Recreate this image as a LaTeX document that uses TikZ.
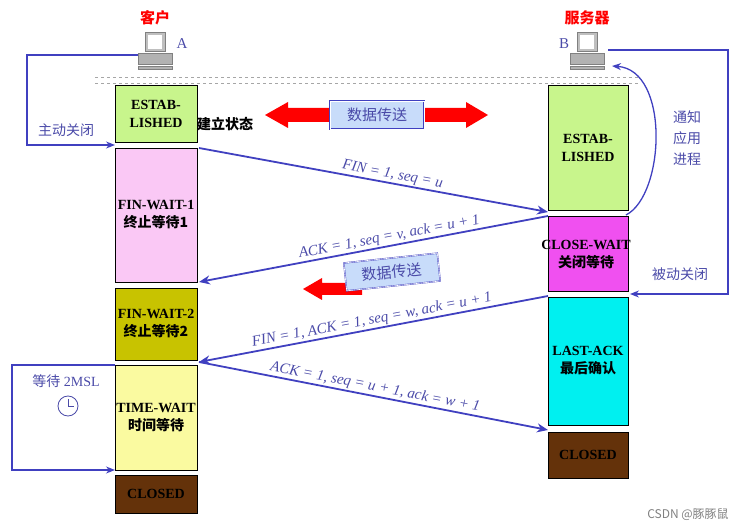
\documentclass[tikz,border=0pt]{standalone}
\usepackage{fontspec}
\setmainfont{Liberation Serif}
\newfontfamily\cjk{Noto Sans CJK SC}
\usetikzlibrary{arrows.meta}
\definecolor{lblue}{HTML}{4040C0}
\definecolor{ltext}{HTML}{4A4AA8}
\tikzset{
  st/.style={draw=black,line width=0.4pt,minimum width=#1,inner sep=0pt,align=center,font=\bfseries\fontsize{14}{18}\selectfont,
    append after command={[draw=black!80,line width=2pt] (\tikzlastnode.north east) ++(1,2) -- ++(0,0) (\tikzlastnode.north east)++(1,2) |- ([yshift=-1pt]\tikzlastnode.south west)}},
  msg/.style={draw=lblue,line width=1.8pt,-{Stealth[length=11pt,width=9pt]}},
  loop/.style={draw=lblue,line width=1.3pt,-{Stealth[length=9pt,width=7pt]}},
  lbl/.style={text=ltext,font=\itshape\fontsize{15}{17}\selectfont,inner sep=1pt},
  clbl/.style={text=ltext,font=\cjk\fontsize{14}{21}\selectfont,align=center},
  dbox/.style={draw=lblue,fill={rgb,255:red,200;green,220;blue,250},double,minimum width=94pt,minimum height=28pt,font=\cjk\fontsize{15}{17}\selectfont,text=ltext},
}
\begin{document}
\begin{tikzpicture}[x=1pt,y=-1pt]
\useasboundingbox (0,0) rectangle (750,529);
% headers
\node[text=red,font=\cjk\bfseries\fontsize{15}{17}\selectfont] (kh) at (155,18) {客户};
\node[text=red,font=\cjk\bfseries\fontsize{15}{17}\selectfont] (fwq) at (587,18) {服务器};
% computers
\foreach \n/\x in {A/155,B/587}{
  \fill[gray!50,draw=gray] (\x-10,32) rectangle (\x+10,51);
  \fill[white] (\x-7,35) rectangle (\x+7,49);
  \fill[gray!60,draw=gray] (\x-17,53) rectangle (\x+17,64);
  \fill[gray!60,draw=gray] (\x-17,66) rectangle (\x+17,69);
  \coordinate (pc\n) at (\x,50);
}
\node[text=ltext,font=\fontsize{15}{17}\selectfont] (la) at (182,44) {A};
\node[text=ltext,font=\fontsize{15}{17}\selectfont] (lb) at (564,44) {B};
% dashed double line
\draw[gray!70,dashed,line width=0.8pt] (95,77) -- (640,77) (95,83) -- (640,83);
% client states
\node[st=82pt,minimum height=57pt,fill={rgb,255:red,200;green,245;blue,140}] (ce) at (156,113.5) {ESTAB-\\LISHED};
\node[font=\cjk\bfseries\fontsize{14}{17}\selectfont,anchor=west,inner sep=0pt] (jl) at (197,124) {建立状态};
\node[st=82pt,minimum height=134pt,fill={rgb,255:red,250;green,200;blue,245}] (fw1) at (156,215) {FIN-WAIT-1\\{\cjk 终止等待1}};
\node[st=82pt,minimum height=72pt,fill={rgb,255:red,200;green,195;blue,0}] (fw2) at (156,324) {FIN-WAIT-2\\{\cjk 终止等待2}};
\node[st=82pt,minimum height=105pt,fill={rgb,255:red,250;green,250;blue,160}] (tw) at (156,417.5) {TIME-WAIT\\{\cjk 时间等待}};
\node[st=82pt,minimum height=38pt,fill={rgb,255:red,100;green,50;blue,10}] (cc) at (156,494) {CLOSED};
% server states
\node[st=80pt,minimum height=125pt,fill={rgb,255:red,200;green,245;blue,140}] (se) at (588,147.5) {ESTAB-\\LISHED};
\node[st=80pt,minimum height=75pt,fill={rgb,255:red,240;green,80;blue,240}] (cw) at (588,253.5) {};
\node[font=\bfseries\fontsize{14}{18}\selectfont,align=center] (cwt) at (586,255) {CLOSE-WAIT\\{\cjk 关闭等待}};
\node[st=80pt,minimum height=128pt,fill={rgb,255:red,0;green,240;blue,240}] (la2) at (588,361) {LAST-ACK\\{\cjk 最后确认}};
\node[st=80pt,minimum height=46pt,fill={rgb,255:red,100;green,50;blue,10}] (sc) at (588,455) {CLOSED};
% data transfer 1
\fill[red] (265,115) -- (288,102) -- (288,108) -- (466,108) -- (466,102) -- (488,115) -- (466,128) -- (466,122) -- (288,122) -- (288,128) -- cycle;
\node[dbox] (dt1) at (377,115) {数据传送};
% data transfer 2
\fill[red] (303,289) -- (322,278) -- (322,283) -- (362,283) -- (362,295) -- (322,295) -- (322,300) -- cycle;
\node[dbox,rotate=6] (dt2) at (392,272) {数据传送};
% messages
\coordinate (m1s) at (199,148); \coordinate (m1e) at (548,212);
\coordinate (m2s) at (548,216); \coordinate (m2e) at (199,282);
\coordinate (m3s) at (548,296); \coordinate (m3e) at (199,362);
\coordinate (m4s) at (199,362); \coordinate (m4e) at (548,430);
\draw[msg] (m1s) -- (m1e) node[lbl,pos=0.55,above,sloped] {FIN = 1, seq = u};
\draw[msg] (m2s) -- (m2e) node[lbl,pos=0.45,above,sloped] {ACK = 1, seq = v, ack = u + 1};
\draw[msg] (m3s) -- (m3e) node[lbl,pos=0.5,above,sloped] {FIN = 1, ACK = 1, seq = w, ack = u + 1};
\draw[msg] (m4s) -- (m4e) node[lbl,pos=0.5,above,sloped] {ACK = 1, seq = u + 1, ack = w + 1};
% loops
\coordinate (l1a) at (138,55); \coordinate (l1b) at (115,145);
\draw[loop] (l1a) -- (27,55) -- (27,145) -- (l1b);
\node[clbl] (zd) at (66,130) {主动关闭};
\coordinate (l2a) at (608,50); \coordinate (l2b) at (630,294);
\draw[loop] (l2a) -- (728,50) -- (728,294) -- (l2b);
\node[clbl] (bd) at (680,274) {被动关闭};
\coordinate (c1) at (626,215); \coordinate (c2) at (612,66);
\draw[loop] (c1) .. controls (665,195) and (670,70) .. (c2);
\node[clbl] (tz) at (687,138) {通知\\应用\\进程};
\coordinate (l3a) at (115,365); \coordinate (l3b) at (115,470);
\draw[loop] (l3a) -- (12,365) -- (12,470) -- (l3b);
\node[text=ltext,font=\fontsize{14}{17}\selectfont,inner sep=0pt] (msl) at (66,381) {{\cjk 等待} 2MSL};
% clock
\node[circle,draw=ltext,fill=white,line width=0.8pt,minimum size=20pt,inner sep=0pt] (clk) at (68,406) {};
\draw[ltext,line width=0.9pt] (clk.center) -- ++(0,-7) (clk.center) -- ++(6,0);
% watermark
\node[text=gray,font=\cjk\fontsize{12}{14}\selectfont] (wm) at (688,515) {CSDN @豚豚鼠};
\end{tikzpicture}
\end{document}
